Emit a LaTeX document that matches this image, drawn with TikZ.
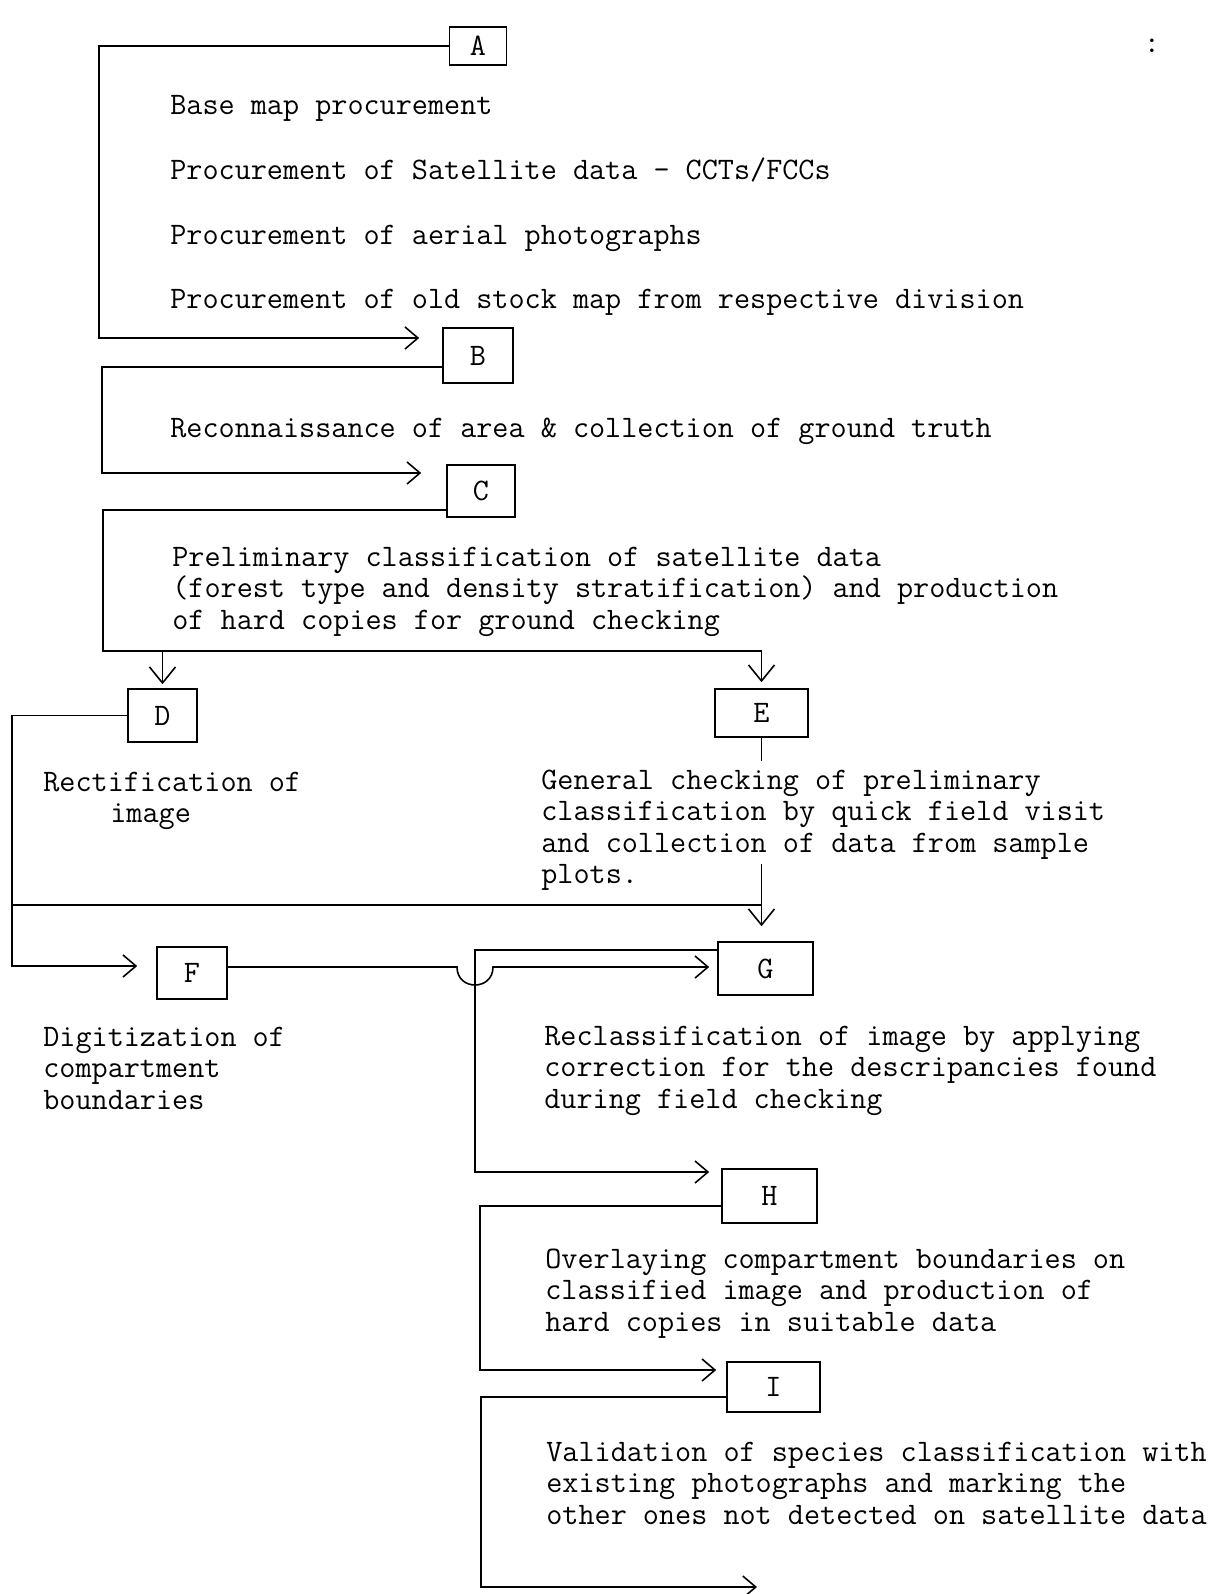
\documentclass[tikz,border=0pt]{standalone}
\usepackage{fontspec}
\usetikzlibrary{arrows.meta,calc}

\tikzset{
	typed/.style={font=\fontsize{17.8}{17.9}\selectfont\ttfamily},
	stage/.style={draw, line width=0.9pt, inner sep=0pt, typed},
	note/.style={anchor=base west, inner sep=0pt, align=left, typed},
	link/.style={line width=0.9pt},
	flow/.style={link, -{Straight Barb[length=0.26cm, width=0.44cm, line width=0.9pt]}},
	drop/.style={link, -{Straight Barb[length=0.32cm, width=0.52cm, line width=0.9pt]}},
}

\begin{document}
\begin{tikzpicture}[x=0.02cm, y=-0.02cm]
		%%%%% START %%%%%
		\useasboundingbox (0, 0) rectangle (1214, 1594);
		
		\node[stage, minimum width=1.14cm, minimum height=0.76cm] (A) at (478, 46) {A};
		\node[stage, minimum width=1.4cm, minimum height=1.1cm] (B) at (478, 355.5) {B};
		\node[stage, minimum width=1.36cm, minimum height=1.04cm] (C) at (481, 491) {C};
		\node[stage, minimum width=1.38cm, minimum height=1.06cm] (D) at (162.5, 715.5) {D};
		\node[stage, minimum width=1.86cm, minimum height=0.96cm] (E) at (761.5, 713) {E};
		\node[stage, minimum width=1.4cm, minimum height=1.04cm] (F) at (192, 973) {F};
		\node[stage, minimum width=1.9cm, minimum height=1.06cm] (G) at (765.5, 968.5) {G};
		\node[stage, minimum width=1.9cm, minimum height=1.08cm] (H) at (769.5, 1196) {H};
		\node[stage, minimum width=1.86cm, minimum height=1cm] (I) at (773.5, 1387) {I};
		
		\node[typed, inner sep=0pt] (mark) at (1152, 46) {:};
		
		% texts sit on the baseline of their last line
		\node[note] (a1) at (170, 115) {Base map procurement};
		\node[note] (a2) at (170, 180) {Procurement of Satellite data - CCTs/FCCs};
		\node[note] (a3) at (170, 245) {Procurement of aerial photographs};
		\node[note] (a4) at (170, 309) {Procurement of old stock map from respective division};
		
		\node[note] (b1) at (170, 437) {Reconnaissance of area \& collection of ground truth};
		
		\node[note] (c1) at (172, 629) {Preliminary classification of satellite data\\(forest type and density stratification) and production\\of hard copies for ground checking};
		
		\node[note] (d1) at (43, 822.5) {Rectification of\\\hspace*{1.34cm}image};
		\node[note] (e1) at (541, 883.5) {General checking of preliminary\\classification by quick field visit\\and collection of data from sample\\plots.};
		
		\node[note] (f1) at (43, 1109) {Digitization of\\compartment\\boundaries};
		\node[note] (g1) at (544, 1108) {Reclassification of image by applying\\correction for the descripancies found\\during field checking};
		
		\node[note] (h1) at (545, 1331) {Overlaying compartment boundaries on\\classified image and production of\\hard copies in suitable data};
		
		\node[note] (i1) at (546, 1524) {Validation of species classification with\\existing photographs and marking the\\other ones not detected on satellite data};
		
		% A -> B -> C
		\draw[flow] (A.west) -| (99, 338) -- ($(B.west)+(-23, -17.5)$);
		\draw[flow] ($(B.west)+(0, 11.5)$) -| (102, 473) -- ($(C.west)+(-25, -18)$);
		
		% C -> D, E
		\coordinate (cbus) at (0, 651);
		\draw[link] ($(C.west)+(0, 19)$) -| (103, 651) -- (E.north |- cbus);
		\draw[drop, shorten >=0.08cm] (D.north |- cbus) -- (D.north);
		\draw[drop, shorten >=0.12cm] (E.north |- cbus) -- (E.north);
		
		% D -> F, G and E -> G
		\coordinate (dbus) at (12, 905);
		\draw[flow] (D.west) -| (12, 966) -- ($(F.west)+(-19, -7)$);
		\draw[link] (dbus) -- (E.south |- dbus);
		\draw[link] (E.south) -- ++(0, 23);
		\draw[drop, shorten >=0.3cm] ($(E.south)+(0, 126)$) -- (E.south |- G.north);
		
		% F -> G, jumping under the G line
		\draw[flow] ($(F.east)+(0, -6)$) -- (457, 967) .. controls (457, 991) and (493, 991) .. (493, 967) -- ($(G.west)+(-8, -1.5)$);
		
		% G -> H -> I -> out
		\draw[flow] ($(G.west)+(0, -18.5)$) -| (475, 1172) -- ($(H.west)+(-12, -24)$);
		\draw[flow] ($(H.west)+(0, 10)$) -| (480, 1370) -- ($(I.west)+(-10, -17)$);
		\coordinate (iout) at (757, 1587);
		\draw[flow] ($(I.west)+(0, 10)$) -| (481, 1587) -- (iout);
		
		%%%%% END %%%%%
	\end{tikzpicture}
\end{document}
